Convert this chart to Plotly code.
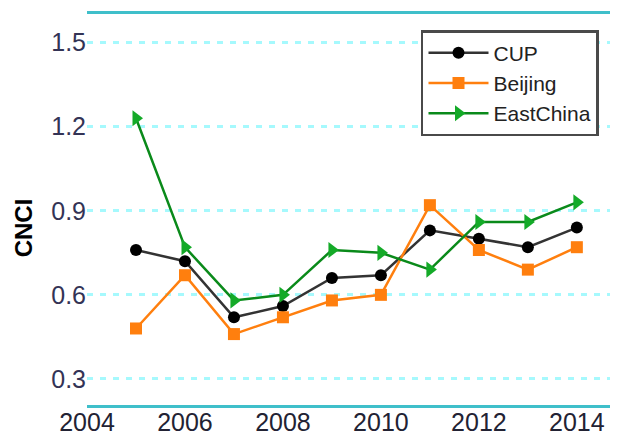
import plotly.graph_objects as go

years = [2005, 2006, 2007, 2008, 2009, 2010, 2011, 2012, 2013, 2014]
cup = [0.76, 0.72, 0.52, 0.56, 0.66, 0.67, 0.83, 0.80, 0.77, 0.84]
beijing = [0.48, 0.67, 0.46, 0.52, 0.58, 0.60, 0.92, 0.76, 0.69, 0.77]
eastchina = [1.23, 0.77, 0.58, 0.60, 0.76, 0.75, 0.69, 0.86, 0.86, 0.93]

x_ticks = [2004, 2006, 2008, 2010, 2012, 2014]
y_ticks = [0.3, 0.6, 0.9, 1.2, 1.5]

fig = go.Figure()
fig.add_trace(go.Scatter(x=years, y=cup, name="CUP", mode="lines+markers",
                         line=dict(color="#333333", width=2.5),
                         marker=dict(symbol="circle", size=12, color="black")))
fig.add_trace(go.Scatter(x=years, y=beijing, name="Beijing", mode="lines+markers",
                         line=dict(color="#ff7f0e", width=2.5),
                         marker=dict(symbol="square", size=12, color="#ff7f0e")))
fig.add_trace(go.Scatter(x=years, y=eastchina, name="EastChina", mode="lines+markers",
                         line=dict(color="#0a8a1a", width=2.5),
                         marker=dict(symbol="triangle-right", size=14, color="#14aa28")))

# the page body adds an 8px offset, so margins compensate for it
fig.update_layout(
    width=618, height=435,
    margin=dict(l=79, r=8, t=6, b=38),
    plot_bgcolor="white", paper_bgcolor="white",
    font=dict(family="Liberation Sans, Arial, sans-serif", color="#222222"),
    showlegend=True,
    legend=dict(x=0.629, y=0.959, xanchor="left", yanchor="top",
                bordercolor="#4a4a4a", borderwidth=2.5, bgcolor="white",
                font=dict(size=21, color="#222222"),
                tracegroupgap=0, itemwidth=60),
    annotations=[dict(text="<b>CNCI</b>", xref="paper", yref="paper",
                      x=-0.119, y=0.454, xanchor="center", yanchor="middle",
                      textangle=-90, showarrow=False,
                      font=dict(size=24, color="black"))],
)
fig.update_xaxes(range=[2004, 2014.84], tickvals=x_ticks, showgrid=False,
                 showline=True, mirror=True, linecolor="#3fbfca", linewidth=3,
                 ticks="", tickfont=dict(size=25, color="#222233"), zeroline=False,
                 automargin=False, ticklabelstandoff=-7)
fig.update_yaxes(range=[0.207, 1.602], tickvals=y_ticks, tickformat=".1f",
                 showgrid=True, gridcolor="#a6f9fd", gridwidth=3, griddash="6px,7px",
                 showline=False, ticks="", zeroline=False, automargin=False,
                 tickfont=dict(size=25, color="#333355"))

fig.write_html("out.html")
